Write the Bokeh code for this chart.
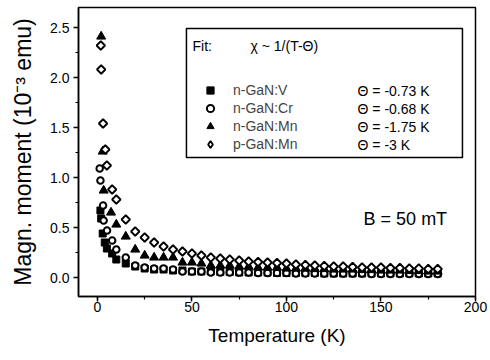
import numpy as np
from bokeh.plotting import figure
from bokeh.models import (Range1d, SingleIntervalTicker, PrintfTickFormatter, Legend,
                          LegendItem, Label, BoxAnnotation)
from bokeh.embed import file_html
from bokeh.resources import INLINE

FONT = "Liberation Sans"

# ---------------- data ----------------
temps_above_20 = [20, 25, 30, 35, 40, 45, 50, 55, 60, 65, 70, 75, 80, 85, 90, 95, 100,
                  105, 110, 115, 120, 125, 130, 135, 140, 145, 150, 155, 160, 165, 170,
                  175, 180]

# n-GaN:V (filled squares)
temps_v_low = [1.6, 2.0, 2.8, 3.9, 5.0, 7.8, 10, 15]
moment_v_low = [0.67, 0.59, 0.44, 0.35, 0.29, 0.24, 0.18, 0.14]
moment_v_high = [0.11, 0.09, 0.08, 0.08, 0.07, 0.07, 0.06, 0.06, 0.06, 0.055,
                 0.055, 0.05, 0.05, 0.05, 0.05, 0.045, 0.045, 0.045, 0.045, 0.045,
                 0.04, 0.04, 0.04, 0.04, 0.04, 0.04, 0.04, 0.04, 0.04, 0.04,
                 0.04, 0.04, 0.04]

# n-GaN:Cr (open circles)
temps_cr_low = [1.2, 1.6, 3.0, 3.3, 5.1, 7.8, 10, 15]
moment_cr_low = [1.09, 0.97, 0.72, 0.57, 0.47, 0.37, 0.28, 0.20]
moment_cr_high = [0.12, 0.10, 0.09, 0.09, 0.08, 0.06, 0.06, 0.06, 0.05, 0.05,
                  0.05, 0.05, 0.05, 0.045, 0.045, 0.045, 0.045, 0.04, 0.04, 0.04,
                  0.04, 0.04, 0.04, 0.04, 0.04, 0.035, 0.035, 0.035, 0.035, 0.035,
                  0.035, 0.035, 0.035]

# n-GaN:Mn (filled triangles)
temps_mn_low = [2.0, 2.8, 3.3, 7.2, 10, 15]
moment_mn_low = [2.41, 1.26, 0.87, 0.65, 0.53, 0.41]
moment_mn_high = [0.28, 0.22, 0.20, 0.20, 0.20, 0.15, 0.15, 0.14, 0.12, 0.12,
                  0.12, 0.11, 0.11, 0.10, 0.10, 0.10, 0.09, 0.09, 0.09, 0.085,
                  0.085, 0.08, 0.08, 0.08, 0.075, 0.075, 0.07, 0.07, 0.07, 0.065,
                  0.065, 0.06, 0.06]

# p-GaN:Mn (open diamonds)
temps_pmn_low = [1.8, 2.0, 3.0, 4.2, 5.0, 7.8, 10, 15]
moment_pmn_low = [2.32, 2.08, 1.54, 1.28, 1.12, 0.88, 0.78, 0.58]
moment_pmn_high = [0.46, 0.40, 0.35, 0.31, 0.28, 0.26, 0.24, 0.22, 0.20, 0.19,
                   0.18, 0.17, 0.16, 0.155, 0.15, 0.145, 0.14, 0.13, 0.125, 0.12,
                   0.115, 0.11, 0.11, 0.105, 0.10, 0.10, 0.10, 0.095, 0.095, 0.09,
                   0.09, 0.085, 0.085]

series_names = ["n-GaN:V", "n-GaN:Cr", "n-GaN:Mn", "p-GaN:Mn"]
theta_labels = ["\u0398 = -0.73 K", "\u0398 = -0.68 K", "\u0398 = -1.75 K", "\u0398 = -3 K"]

# ---------------- figure ----------------
p = figure(width=490, height=360, x_range=Range1d(-10, 200), y_range=Range1d(-0.19, 2.70),
           output_backend="svg", toolbar_location=None,
           min_border_left=78, min_border_right=15, min_border_top=7, min_border_bottom=64)
p.xgrid.visible = False
p.ygrid.visible = False
p.outline_line_color = "black"
p.outline_line_width = 1.5
p.background_fill_color = "white"
p.border_fill_color = "white"

r_v = p.scatter(temps_v_low + temps_above_20, moment_v_low + moment_v_high,
                marker="square", size=7, fill_color="black", line_color="black", line_width=1)
r_cr = p.scatter(temps_cr_low + temps_above_20, moment_cr_low + moment_cr_high,
                 marker="circle", size=6.5, fill_color="white", line_color="black", line_width=2)
r_mn = p.scatter(temps_mn_low + temps_above_20, moment_mn_low + moment_mn_high,
                 marker="triangle", size=9, fill_color="black", line_color="black", line_width=1)
r_pmn = p.scatter(temps_pmn_low + temps_above_20, moment_pmn_low + moment_pmn_high,
                  marker="square", angle=np.pi / 4, size=6, fill_color="white",
                  line_color="black", line_width=1.8)
# same p-GaN:Mn data as a (hidden) diamond renderer, used only for the legend symbol
r_pmn_leg = p.scatter(temps_pmn_low + temps_above_20, moment_pmn_low + moment_pmn_high,
                      marker="diamond", size=9, fill_color="white",
                      line_color="black", line_width=1.8, visible=False)

# axes
for ax in (p.xaxis[0], p.yaxis[0]):
    ax.axis_line_color = "black"
    ax.axis_line_width = 1.5
    ax.major_tick_line_width = 1.5
    ax.minor_tick_line_width = 1.2
    ax.major_tick_in = 0
    ax.major_tick_out = 5
    ax.minor_tick_in = 0
    ax.minor_tick_out = 3
    ax.major_label_text_font = FONT
    ax.major_label_text_font_size = "14px"
    ax.major_label_text_color = "black"
    ax.axis_label_text_font = FONT
    ax.axis_label_text_font_style = "normal"
    ax.axis_label_text_color = "black"

p.xaxis.ticker = SingleIntervalTicker(interval=50, num_minor_ticks=2)
p.yaxis.ticker = SingleIntervalTicker(interval=0.5, num_minor_ticks=2)
p.yaxis.formatter = PrintfTickFormatter(format="%.1f")
p.xaxis.axis_label = "Temperature (K)"
p.yaxis.axis_label = "Magn. moment (10\u207b\u00b3 emu)"
p.xaxis.axis_label_text_font_size = "19px"
p.yaxis.axis_label_text_font_size = "23px"
p.xaxis.major_label_standoff = 0
p.yaxis.major_label_standoff = 4
p.xaxis.axis_label_standoff = 10
p.yaxis.axis_label_standoff = 11

# legend box and texts
p.add_layout(BoxAnnotation(left=47.1, right=193.1, top=2.49, bottom=1.20,
                           fill_alpha=0, line_color="black", line_alpha=1.0, line_width=1.5))

legend = Legend(items=[LegendItem(label=n, renderers=[r]) for n, r in
                       zip(series_names, [r_v, r_cr, r_mn, r_pmn_leg])],
                location=(123, 143), padding=0, margin=0, spacing=0,
                glyph_width=18, glyph_height=18, label_height=18, label_standoff=14,
                border_line_color=None, background_fill_alpha=0,
                inactive_fill_alpha=0,
                label_text_font=FONT, label_text_font_size="14px")
p.add_layout(legend)

text_kw = dict(text_font=FONT, text_font_size="14px", text_color="black",
               text_baseline="middle", text_align="left")
p.add_layout(Label(x=50.3, y=2.32, text="Fit:", **text_kw))
p.add_layout(Label(x=81.0, y=2.32, text="\u03c7 ~ 1/(T-\u0398)", **text_kw))
for yv, t in zip([1.87, 1.69, 1.51, 1.33], theta_labels):
    p.add_layout(Label(x=137.6, y=yv, text=t, **text_kw))

p.add_layout(Label(x=140.8, y=0.59, text="B = 50 mT", text_font=FONT, text_font_size="18px",
                   text_color="black", text_baseline="middle", text_align="left"))

open("out.html", "w").write(file_html(p, INLINE))
